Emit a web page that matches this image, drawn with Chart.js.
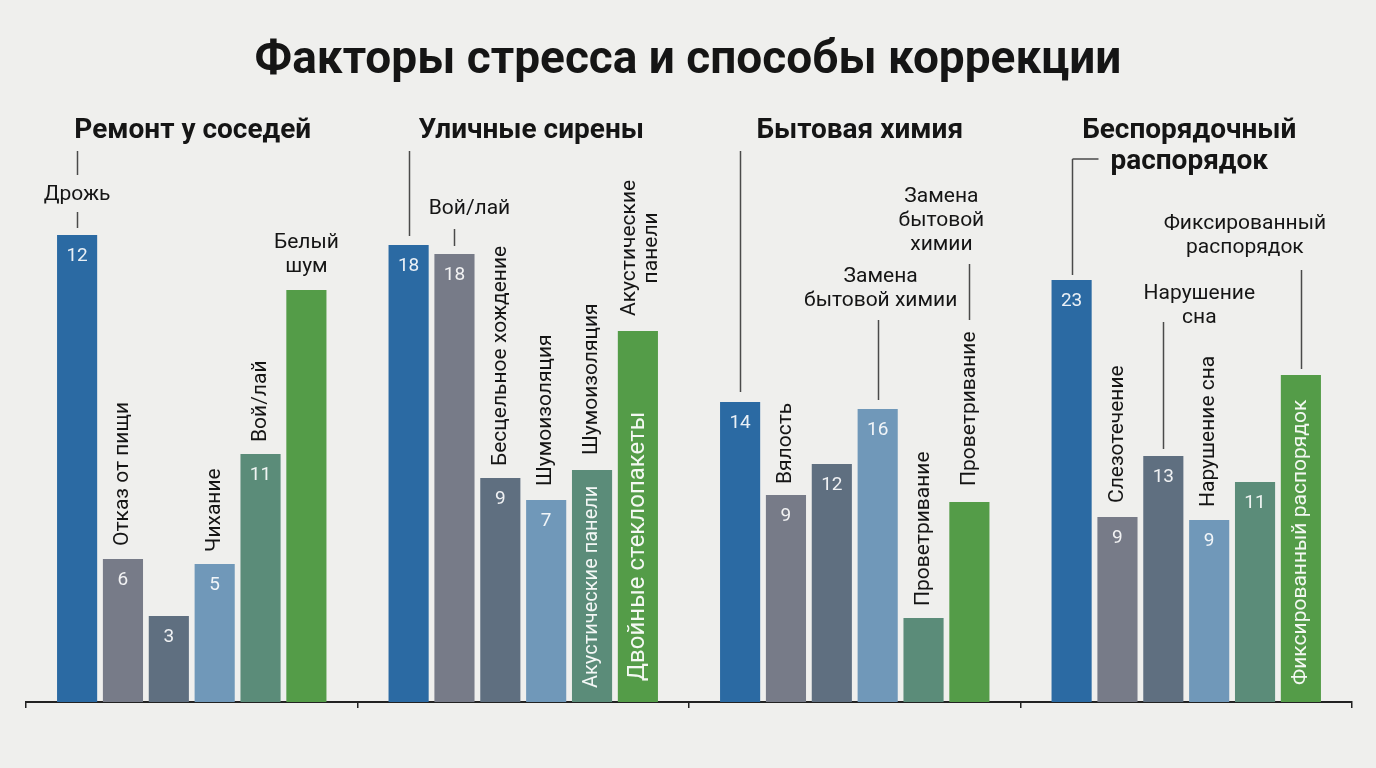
<!DOCTYPE html>
<html lang="ru">
<head>
<meta charset="utf-8">
<title>Факторы стресса и способы коррекции</title>
<script src="https://cdn.jsdelivr.net/npm/chart.js@4.4.1/dist/chart.umd.min.js"></script>
<style>
  html, body { margin: 0; padding: 0; background: #efefed; }
  #wrap { width: 1376px; height: 768px; }
</style>
</head>
<body>
<div id="wrap"><canvas id="stressChart" width="1376" height="768"></canvas></div>
<script>
// Groups along the x axis
const panels = ['Ремонт у соседей', 'Уличные сирены', 'Бытовая химия', 'Беспорядочный распорядок'];
const panelTitleLines = [['Ремонт у соседей'], ['Уличные сирены'], ['Бытовая химия'], ['Беспорядочный', 'распорядок']];
const mainTitle = 'Факторы стресса и способы коррекции';

// Bar heights, one value per panel for each of the six bars
const series1 = [23.35, 22.85, 15.0, 21.1];
const series2 = [7.15, 22.4, 10.35, 9.25];
const series3 = [4.3, 11.2, 11.9, 12.3];
const series4 = [6.9, 10.1, 14.65, 9.1];
const series5 = [12.4, 11.6, 4.2, 11.0];
const series6 = [20.6, 18.55, 10.0, 16.35];

// Numbers printed at the top of the bars
const valueLabels = [
  [12, 6, 3, 5, 11, null],
  [18, 18, 9, 7, null, null],
  [14, 9, 12, 16, null, null],
  [23, 9, 13, 9, 11, null]
];

// Text above the bars ('\n' = line break)
const topLabels = [
  ['Дрожь', 'Отказ от пищи', null, 'Чихание', 'Вой/лай', 'Белый\nшум'],
  [null, 'Вой/лай', 'Бесцельное хождение', 'Шумоизоляция', 'Шумоизоляция', 'Акустические\nпанели'],
  [null, 'Вялость', null, 'Замена\nбытовой химии', 'Проветривание', 'Проветривание'],
  [null, 'Слезотечение', 'Нарушение\nсна', 'Нарушение сна', null, 'Фиксированный\nраспорядок']
];
const extraTopLabel = 'Замена\nбытовой\nхимии'; // over the last bar of "Бытовая химия"

// Text written inside the bars
const innerLabels = [
  [null, null, null, null, null, null],
  [null, null, null, null, 'Акустические панели', 'Двойные стеклопакеты'],
  [null, null, null, null, null, null],
  [null, null, null, null, null, 'Фиксированный распорядок']
];

const colors = ['#2b6aa3', '#777b88', '#5f6f80', '#7098b9', '#5b8c79', '#549c48'];

// placement of the annotations (offsets from the bar top)
const topLayout = [
  [{ mode: 'h', y: -40, lead: [['title', -60], [-23, -7]] }, { mode: 'v', gap: 13 }, null,
   { mode: 'v', gap: 12 }, { mode: 'v', gap: 12 }, { mode: 'h', y: -23 }],
  [{ lead: [['title', -9]] }, { mode: 'h', y: -45, dx: 15, lead: [[-25, -8]] }, { mode: 'v', gap: 12 },
   { mode: 'v', gap: 14 }, { mode: 'v', gap: 15 }, { mode: 'v', gap: 15, dx: 3 }],
  [{ lead: [['title', -10]] }, { mode: 'v', gap: 11 }, null,
   { mode: 'h', y: -108, dx: 3, lead: [[-89, -9]] }, { mode: 'v', gap: 12 }, { mode: 'v', gap: 16 }],
  [{ bracket: 26, lead: [['title2', -5]] }, { mode: 'v', gap: 14 }, { mode: 'h', y: -138, dx: 36, lead: [[-134, -7]] },
   { mode: 'v', gap: 13 }, null, { mode: 'h', y: -127, dx: -56, lead: [[-105, -6]] }]
];
const extraLayout = { panel: 2, bar: 5, mode: 'h', y: -257, dx: -28, lead: [[-238, -182]] };
const innerLayout = { '1-4': { pad: 14, size: 20 }, '1-5': { pad: 21, size: 24 }, '3-5': { pad: 17, size: 21 } };

const TEXT = '#151515';
const LEAD = '#4a4a4a';
const titleBaseline = [138, 169];
const titleDx = [1, 8, 5, 3];
const leadTop = { title: 151, title2: 159 };

function drawLines(ctx, x, lastY, lines, lh) {
  lines.forEach((ln, i) => {
    ctx.fillText(ln, x, lastY - (lines.length - 1 - i) * lh);
  });
}

const annotate = {
  id: 'annotate',
  beforeDraw(chart) {
    const ctx = chart.ctx;
    ctx.save();
    ctx.fillStyle = '#efefed';
    ctx.fillRect(0, 0, chart.width, chart.height);
    ctx.restore();
  },
  afterDatasetsDraw(chart) {
    const ctx = chart.ctx;
    const xs = chart.scales.x;
    ctx.save();

    // main title
    ctx.fillStyle = TEXT;
    ctx.textAlign = 'center';
    ctx.textBaseline = 'alphabetic';
    ctx.font = 'bold 46px Roboto';
    ctx.fillText(mainTitle, chart.width / 2, 73);

    // panel titles
    ctx.font = 'bold 28px Roboto';
    panelTitleLines.forEach((lines, p) => {
      const cx = xs.getPixelForValue(p) + titleDx[p];
      lines.forEach((ln, i) => ctx.fillText(ln, cx, titleBaseline[i]));
    });

    const barAt = (p, b) => chart.getDatasetMeta(b).data[p];

    function leaders(spec, bar) {
      if (!spec || !spec.lead) return;
      ctx.strokeStyle = LEAD;
      ctx.lineWidth = 1.5;
      const x = Math.round(bar.x + (spec.lx || 0)) + 0.5;
      spec.lead.forEach(([a, b]) => {
        const y1 = typeof a === 'string' ? leadTop[a] : bar.y + a;
        const y2 = typeof b === 'string' ? leadTop[b] : bar.y + b;
        ctx.beginPath();
        ctx.moveTo(x, y1);
        ctx.lineTo(x, y2);
        ctx.stroke();
      });
      if (spec.bracket) {
        ctx.beginPath();
        ctx.moveTo(x, leadTop.title2);
        ctx.lineTo(x + spec.bracket, leadTop.title2);
        ctx.stroke();
      }
    }

    function topText(text, spec, bar) {
      if (!text || !spec) return;
      const lines = text.split('\n');
      ctx.fillStyle = TEXT;
      ctx.font = '21px Roboto';
      const dx = spec.dx || 0;
      if (spec.mode === 'h') {
        ctx.textAlign = 'center';
        ctx.textBaseline = 'middle';
        drawLines(ctx, bar.x + dx, bar.y + spec.y, lines, 24);
      } else if (spec.mode === 'v') {
        const maxW = Math.max(...lines.map(l => ctx.measureText(l).width));
        const cy = bar.y - (spec.gap || 12) - maxW / 2;
        ctx.save();
        ctx.translate(bar.x + dx, cy);
        ctx.rotate(-Math.PI / 2);
        ctx.textAlign = 'center';
        ctx.textBaseline = 'middle';
        lines.forEach((ln, i) => ctx.fillText(ln, 0, (i - (lines.length - 1) / 2) * 22));
        ctx.restore();
      }
    }

    for (let p = 0; p < panels.length; p++) {
      for (let b = 0; b < 6; b++) {
        const bar = barAt(p, b);
        const spec = topLayout[p][b];
        leaders(spec, bar);
        topText(topLabels[p][b], spec, bar);

        const v = valueLabels[p][b];
        if (v !== null) {
          ctx.fillStyle = 'rgba(255,255,255,0.9)';
          ctx.font = '19px Roboto';
          ctx.textAlign = 'center';
          ctx.textBaseline = 'middle';
          ctx.fillText(String(v), bar.x, bar.y + 21);
        }

        const inner = innerLabels[p][b];
        if (inner) {
          const st = innerLayout[p + '-' + b];
          ctx.save();
          ctx.translate(bar.x, bar.base - st.pad);
          ctx.rotate(-Math.PI / 2);
          ctx.fillStyle = 'rgba(255,255,255,0.93)';
          ctx.font = st.size + 'px Roboto';
          ctx.textAlign = 'left';
          ctx.textBaseline = 'middle';
          ctx.fillText(inner, 0, 0);
          ctx.restore();
        }
      }
    }

    const exBar = barAt(extraLayout.panel, extraLayout.bar);
    leaders(extraLayout, exBar);
    topText(extraTopLabel, extraLayout, exBar);

    ctx.restore();
  }
};

const allSeries = [series1, series2, series3, series4, series5, series6];

new Chart(document.getElementById('stressChart'), {
  type: 'bar',
  data: {
    labels: panels,
    datasets: allSeries.map((vals, i) => ({
      data: vals,
      backgroundColor: colors[i],
      borderWidth: 0,
      categoryPercentage: 0.83,
      barPercentage: 0.875
    }))
  },
  options: {
    responsive: false,
    animation: false,
    events: [],
    layout: { padding: { top: 202, left: 26, right: 24, bottom: 60 } },
    plugins: {
      legend: { display: false },
      tooltip: { enabled: false },
      title: { display: false }
    },
    scales: {
      x: {
        ticks: { display: false },
        grid: { offset: true, drawOnChartArea: false, drawTicks: true, tickLength: 6, color: '#222', lineWidth: 1.5 },
        border: { color: '#222', width: 2 }
      },
      y: { display: false, min: 0, max: 25 }
    }
  },
  plugins: [annotate]
});
</script>
</body>
</html>
